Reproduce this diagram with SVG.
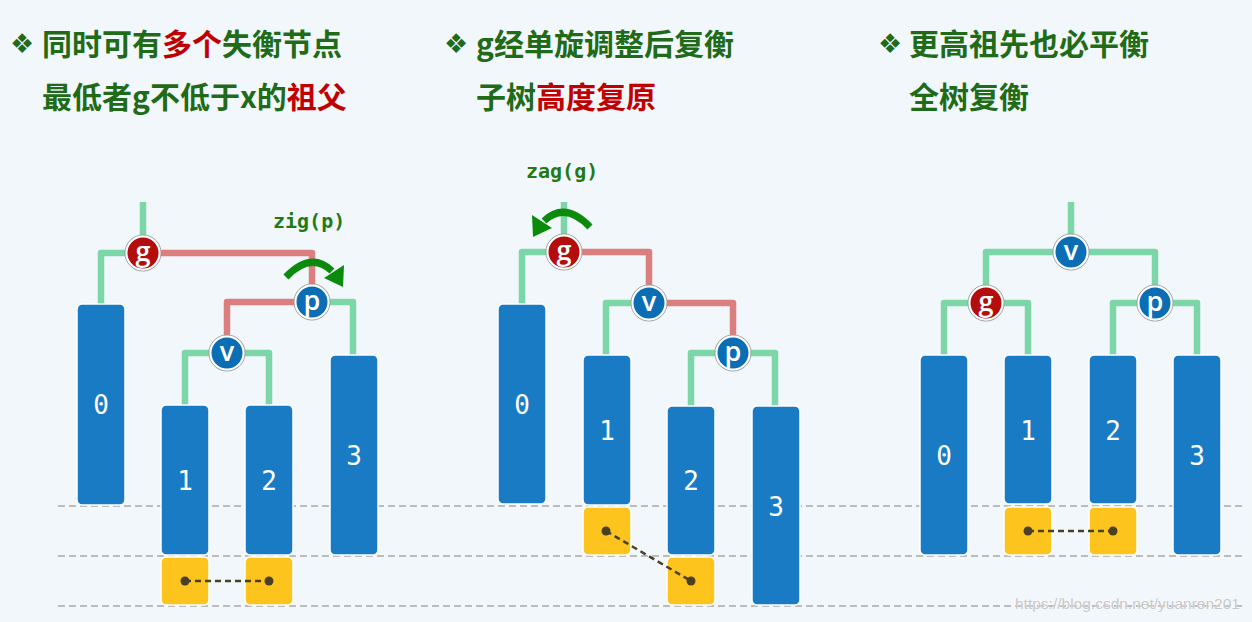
<svg xmlns="http://www.w3.org/2000/svg" width="1252" height="622" viewBox="0 0 1252 622">
<style>
.h{font-family:"Noto Sans CJK SC","Noto Sans",sans-serif;font-weight:700;font-size:30px;fill:#1f6b17}
.r{fill:#c00000}
.bul{font-family:"DejaVu Sans",sans-serif;font-size:27px;fill:#1f6b17}
.bar{fill:#1a7bc5;stroke:#ffffff;stroke-width:1.5}
.yel{fill:#fdc41e;stroke:#ffffff;stroke-width:1.5}
.bl{font-family:"DejaVu Sans Mono","Liberation Mono",monospace;font-size:26px;fill:#ffffff;text-anchor:middle;dominant-baseline:central}
.gl{fill:none;stroke:#7dd6a8;stroke-width:6.5;stroke-linejoin:round}
.rl{fill:none;stroke:#db7e7e;stroke-width:6.5;stroke-linejoin:round}
.nb{fill:#0b6db4;stroke:#ffffff;stroke-width:2}
.nr{fill:#b30d0d;stroke:#ffffff;stroke-width:2}
.ns{fill:none;stroke:#9a9a9a;stroke-width:1}
.nl{font-family:"Open Sans","DejaVu Sans",sans-serif;font-size:27px;font-weight:600;fill:#ffffff;text-anchor:middle;dominant-baseline:central}
.dash{stroke:#bcbcbc;stroke-width:2;stroke-dasharray:7 4}
.lk{stroke:#4a4125;stroke-width:2.5;stroke-dasharray:6 4}
.dot{fill:#4a4125}
.op{font-family:"DejaVu Sans Mono","Liberation Mono",monospace;font-weight:700;font-size:20px;fill:#217a16}
.arc{fill:none;stroke:#0c8a0c;stroke-width:7}
.ah{fill:#0c8a0c}
</style>
<rect width="1252" height="622" fill="#f2f7fc"/>

<g id="headings">
<text class="bul" x="10" y="53">❖</text>
<text class="h" x="42" y="55">同时可有<tspan class="r">多个</tspan>失衡节点</text>
<text class="h" x="42" y="108">最低者g不低于x的<tspan class="r">祖父</tspan></text>
<text class="bul" x="444" y="53">❖</text>
<text class="h" x="476" y="55">g经单旋调整后复衡</text>
<text class="h" x="476" y="108">子树<tspan class="r">高度复原</tspan></text>
<text class="bul" x="878" y="53">❖</text>
<text class="h" x="909" y="55">更高祖先也必平衡</text>
<text class="h" x="909" y="108">全树复衡</text>
</g>

<g id="gridlines">
<line class="dash" x1="58" y1="506" x2="1246" y2="506"/>
<line class="dash" x1="58" y1="556" x2="1246" y2="556"/>
<line class="dash" x1="58" y1="606" x2="1246" y2="606"/>
</g>

<g id="connectors">
<path class="gl" d="M143 202 V253"/>
<path class="gl" d="M143 253 H101 V305"/>
<path class="rl" d="M143 253 H312 V302"/>
<path class="rl" d="M312 302 H227 V353"/>
<path class="gl" d="M312 302 H353 V356"/>
<path class="gl" d="M227 353 H185 V406"/>
<path class="gl" d="M227 353 H269 V406"/>
<path class="gl" d="M564 202 V252"/>
<path class="gl" d="M564 252 H522 V305"/>
<path class="rl" d="M564 252 H649 V303"/>
<path class="gl" d="M649 303 H606 V356"/>
<path class="rl" d="M649 303 H733 V353"/>
<path class="gl" d="M733 353 H691 V407"/>
<path class="gl" d="M733 353 H775 V407"/>
<path class="gl" d="M1071 202 V252"/>
<path class="gl" d="M1071 252 H986 V303"/>
<path class="gl" d="M1071 252 H1155 V303"/>
<path class="gl" d="M986 303 H944 V356"/>
<path class="gl" d="M986 303 H1028 V356"/>
<path class="gl" d="M1155 303 H1113 V356"/>
<path class="gl" d="M1155 303 H1197 V356"/>
</g>

<g id="p1-bars">
<rect class="bar" x="77" y="304" width="48" height="201" rx="5"/><text class="bl" x="101" y="405">0</text>
<rect class="bar" x="161" y="405" width="48" height="150" rx="5"/><text class="bl" x="185" y="481">1</text>
<rect class="bar" x="245" y="405" width="48" height="150" rx="5"/><text class="bl" x="269" y="481">2</text>
<rect class="bar" x="330" y="355" width="48" height="200" rx="5"/><text class="bl" x="354" y="456">3</text>
<rect class="yel" x="161" y="557" width="48" height="48" rx="5"/>
<rect class="yel" x="245" y="557" width="48" height="48" rx="5"/>
<line class="lk" x1="185" y1="581" x2="269" y2="581"/>
<circle class="dot" cx="185" cy="581" r="4.5"/><circle class="dot" cx="269" cy="581" r="4.5"/>
</g>

<g id="p2-bars">
<rect class="bar" x="498" y="304" width="48" height="200" rx="5"/><text class="bl" x="522" y="405">0</text>
<rect class="bar" x="583" y="355" width="48" height="150" rx="5"/><text class="bl" x="607" y="431">1</text>
<rect class="bar" x="667" y="406" width="48" height="149" rx="5"/><text class="bl" x="691" y="481">2</text>
<rect class="bar" x="752" y="406" width="48" height="199" rx="5"/><text class="bl" x="776" y="507">3</text>
<rect class="yel" x="583" y="507" width="48" height="48" rx="5"/>
<rect class="yel" x="667" y="557" width="48" height="48" rx="5"/>
<line class="lk" x1="606" y1="531" x2="691" y2="581"/>
<circle class="dot" cx="606" cy="531" r="4.5"/><circle class="dot" cx="691" cy="581" r="4.5"/>
</g>

<g id="p3-bars">
<rect class="bar" x="920" y="355" width="48" height="200" rx="5"/><text class="bl" x="944" y="456">0</text>
<rect class="bar" x="1004" y="355" width="48" height="149" rx="5"/><text class="bl" x="1028" y="431">1</text>
<rect class="bar" x="1089" y="355" width="48" height="149" rx="5"/><text class="bl" x="1113" y="431">2</text>
<rect class="bar" x="1173" y="355" width="48" height="200" rx="5"/><text class="bl" x="1197" y="456">3</text>
<rect class="yel" x="1004" y="507" width="48" height="48" rx="5"/>
<rect class="yel" x="1089" y="507" width="48" height="48" rx="5"/>
<line class="lk" x1="1028" y1="531" x2="1113" y2="531"/>
<circle class="dot" cx="1028" cy="531" r="4.5"/><circle class="dot" cx="1113" cy="531" r="4.5"/>
</g>

<g id="node-g1"><circle class="ns" cx="143" cy="253" r="18"/><circle class="nr" cx="143" cy="253" r="16.5"/><text class="nl" x="143" y="250">g</text></g>
<g id="node-p1"><circle class="ns" cx="312" cy="302" r="18"/><circle class="nb" cx="312" cy="302" r="16.5"/><text class="nl" x="312" y="299">p</text></g>
<g id="node-v1"><circle class="ns" cx="227" cy="353" r="18"/><circle class="nb" cx="227" cy="353" r="16.5"/><text class="nl" x="227" y="350">v</text></g>

<g id="node-g2"><circle class="ns" cx="564" cy="252" r="18"/><circle class="nr" cx="564" cy="252" r="16.5"/><text class="nl" x="564" y="249">g</text></g>
<g id="node-v2"><circle class="ns" cx="649" cy="303" r="18"/><circle class="nb" cx="649" cy="303" r="16.5"/><text class="nl" x="649" y="300">v</text></g>
<g id="node-p2"><circle class="ns" cx="733" cy="353" r="18"/><circle class="nb" cx="733" cy="353" r="16.5"/><text class="nl" x="733" y="350">p</text></g>

<g id="node-v3"><circle class="ns" cx="1071" cy="252" r="18"/><circle class="nb" cx="1071" cy="252" r="16.5"/><text class="nl" x="1071" y="249">v</text></g>
<g id="node-g3"><circle class="ns" cx="986" cy="303" r="18"/><circle class="nr" cx="986" cy="303" r="16.5"/><text class="nl" x="986" y="300">g</text></g>
<g id="node-p3"><circle class="ns" cx="1155" cy="303" r="18"/><circle class="nb" cx="1155" cy="303" r="16.5"/><text class="nl" x="1155" y="300">p</text></g>

<g id="rot-zig">
<text class="op" x="273" y="228">zig(p)</text>
<path class="arc" d="M286 277 Q311 251 332 271"/>
<polygon class="ah" points="324,278 344,265 343,287"/>
</g>
<g id="rot-zag">
<text class="op" x="526" y="178">zag(g)</text>
<path class="arc" d="M590 227 Q565 201 544 221"/>
<polygon class="ah" points="552,228 532,215 533,237"/>
</g>

<text x="1015" y="609" font-family="Liberation Sans, sans-serif" font-size="15.5" fill="#c8c8c8" stroke="#ffffff" stroke-width="0.6" paint-order="stroke">https://blog.csdn.net/yuanren201</text>
</svg>
